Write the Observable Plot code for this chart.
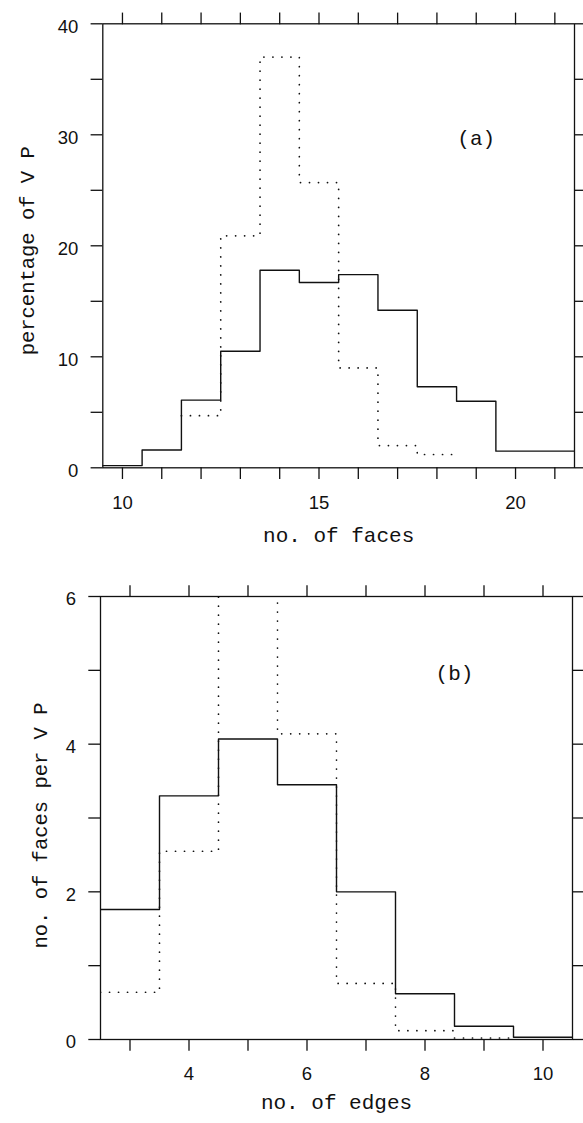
<!DOCTYPE html>
<html>
<head>
<meta charset="utf-8">
<script src="https://cdn.jsdelivr.net/npm/d3@7"></script>
<script src="https://cdn.jsdelivr.net/npm/@observablehq/plot@0.6"></script>
<style>
  html, body { margin: 0; padding: 0; background: #fff; overflow: hidden; }
  #wrap { position: relative; width: 583px; height: 1123px; }
  #pa { position: absolute; left: 0; top: 0; }
  #pb { position: absolute; left: 0; top: 560px; }
</style>
</head>
<body>
<div id="wrap"><div id="pa"></div><div id="pb"></div></div>
<script>
// ---- Panel (a): distribution of number of faces ----
const facesBins = [10, 11, 12, 13, 14, 15, 16, 17, 18, 19, 20, 21];
const facesSolid = [0.2, 1.6, 6.1, 10.5, 17.8, 16.7, 17.4, 14.2, 7.3, 6.0, 1.5, 1.5];
const facesDottedBins = [12, 13, 14, 15, 16, 17, 18];
const facesDotted = [4.7, 20.9, 37.0, 25.7, 9.0, 2.0, 1.2];
const facesXTicks = [10, 11, 12, 13, 14, 15, 16, 17, 18, 19, 20, 21];
const facesXLabels = [10, 15, 20];
const facesYTicks = [0, 5, 10, 15, 20, 25, 30, 35, 40];
const facesYLabels = [0, 10, 20, 30, 40];

// ---- Panel (b): faces per VP by number of edges ----
const edgesBins = [3, 4, 5, 6, 7, 8, 9, 10];
const edgesSolid = [1.76, 3.30, 4.07, 3.45, 2.00, 0.62, 0.18, 0.03];
const edgesDottedBins = [3, 4, 5, 6, 7, 8, 9];
const edgesDotted = [0.64, 2.55, 6.1, 4.14, 0.76, 0.12, 0.02];
const edgesXTicks = [3, 4, 5, 6, 7, 8, 9, 10];
const edgesXLabels = [4, 6, 8, 10];
const edgesYTicks = [0, 1, 2, 3, 4, 5, 6];
const edgesYLabels = [0, 2, 4, 6];

const titleFont = "Liberation Mono";
const tickFont = "Liberation Sans";

function steps(bins, vals) {
  return bins.flatMap((b, i) => [{x: b - 0.5, y: vals[i]}, {x: b + 0.5, y: vals[i]}]);
}

function panel(cfg) {
  const T = 11.7, SW = 1.3;
  return Plot.plot({
    width: 583,
    height: cfg.height,
    marginTop: cfg.mt, marginBottom: cfg.mb, marginLeft: cfg.ml, marginRight: cfg.mr,
    style: {fontFamily: tickFont, fontSize: "18.5px", background: "white", color: "#111"},
    x: {domain: cfg.xDomain},
    y: {domain: cfg.yDomain},
    marks: [
      Plot.axisX({anchor: "bottom", ticks: cfg.xTicks, tickSize: T, strokeWidth: SW, tickFormat: () => "", label: null}),
      Plot.axisX({anchor: "bottom", ticks: cfg.xLabels, tickSize: 0, tickPadding: 27.7, tickFormat: d => String(d), label: null, fontSize: 18.5}),
      Plot.axisX({anchor: "top", ticks: cfg.xTicks, tickSize: T, strokeWidth: SW, tickFormat: () => "", label: null}),
      Plot.axisY({anchor: "left", ticks: cfg.yTicks, tickSize: T, strokeWidth: SW, tickFormat: () => "", label: null}),
      Plot.axisY({anchor: "left", ticks: cfg.yLabels, tickSize: 0, tickPadding: 24.5, dy: 3, tickFormat: d => String(d), label: null, fontSize: 18.5}),
      Plot.axisY({anchor: "right", ticks: cfg.yTicks, tickSize: T, strokeWidth: SW, tickFormat: () => "", label: null}),
      Plot.frame({stroke: "#111", strokeWidth: SW}),
      Plot.line(steps(cfg.dotBins, cfg.dotVals), {x: "x", y: "y", stroke: "#111", strokeWidth: 1.7,
        strokeDasharray: "0.1 8.9", strokeLinecap: "round", clip: true}),
      Plot.line(steps(cfg.solidBins, cfg.solidVals), {x: "x", y: "y", stroke: "#111", strokeWidth: 1.4, clip: true}),
      Plot.text([cfg.tag], {x: () => cfg.tagX, y: () => cfg.tagY, text: d => d, fontFamily: titleFont, fontSize: 21, fill: "#111"}),
      Plot.text([cfg.xTitle], {frameAnchor: "bottom", textAnchor: "middle", lineAnchor: "middle", dy: cfg.xTitleDy, text: d => d, fontFamily: titleFont, fontSize: 21, fill: "#111"}),
      Plot.text([cfg.yTitle], {frameAnchor: "left", textAnchor: "middle", lineAnchor: "middle", dx: cfg.yTitleDx, dy: cfg.yTitleDy, rotate: -90, text: d => d, fontFamily: titleFont, fontSize: 20.5, fill: "#111"})
    ]
  });
}

document.getElementById("pa").append(panel({
  height: 556, mt: 23.3, mb: 88.7, ml: 102.3, mr: 9,
  xDomain: [9.5, 21.5], yDomain: [0, 40],
  xTicks: facesXTicks, xLabels: facesXLabels, yTicks: facesYTicks, yLabels: facesYLabels,
  solidBins: facesBins, solidVals: facesSolid, dotBins: facesDottedBins, dotVals: facesDotted,
  tag: "(a)", tagX: 19.0, tagY: 29.7,
  xTitle: "no. of faces", xTitleDy: 67,
  yTitle: "percentage of V P", yTitleDx: -75, yTitleDy: 5
}));

document.getElementById("pb").append(panel({
  height: 563, mt: 36, mb: 84, ml: 100, mr: 11,
  xDomain: [2.5, 10.5], yDomain: [0, 6],
  xTicks: edgesXTicks, xLabels: edgesXLabels, yTicks: edgesYTicks, yLabels: edgesYLabels,
  solidBins: edgesBins, solidVals: edgesSolid, dotBins: edgesDottedBins, dotVals: edgesDotted,
  tag: "(b)", tagX: 8.5, tagY: 4.96,
  xTitle: "no. of edges", xTitleDy: 63,
  yTitle: "no. of faces per V P", yTitleDx: -60, yTitleDy: 7.5
}));
</script>
</body>
</html>
